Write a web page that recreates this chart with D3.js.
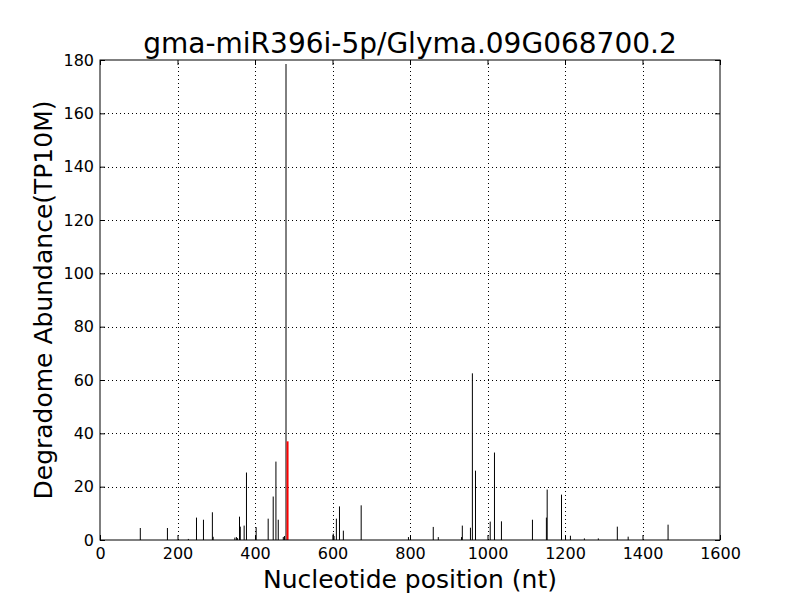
<!DOCTYPE html>
<html>
<head>
<meta charset="utf-8">
<script src="https://cdn.jsdelivr.net/npm/d3@7"></script>
<style>
  html, body { margin: 0; padding: 0; background: #fff; }
  svg { display: block; font-family: "DejaVu Sans", sans-serif; }
</style>
</head>
<body>
<svg id="chart" width="800" height="600"></svg>
<script>
const titleText = "gma-miR396i-5p/Glyma.09G068700.2";
const xLabel = "Nucleotide position (nt)";
const yLabel = "Degradome Abundance(TP10M)";
const xTicks = [0, 200, 400, 600, 800, 1000, 1200, 1400, 1600];
const yTicks = [0, 20, 40, 60, 80, 100, 120, 140, 160, 180];

const positions = [104, 174, 228, 249, 267, 290, 292, 348, 352, 355, 360, 362, 372, 378, 403, 434, 447, 454, 460, 473, 476, 480,
  602, 604, 610, 618, 628, 674, 796, 860, 873, 933, 935, 956, 961, 969, 1007, 1018, 1036, 1116, 1152, 1154, 1191, 1214, 1250, 1286, 1335, 1363, 1466];
const abundances = [4.5, 4.5, 0.4, 8.4, 7.6, 10.4, 1.2, 0.9, 1.1, 0.7, 8.75, 5, 5.4, 25.3, 4.8, 8, 16.3, 29.4, 7.6, 1.1, 1.5, 178.5,
  2.4, 1.5, 8, 12.6, 3.5, 13, 1.1, 4.9, 1.1, 1.1, 5.4, 4.6, 62.5, 26, 6.9, 32.8, 7, 7.6, 8.4, 18.9, 17, 1.6, 0.6, 0.6, 5, 1.25, 5.75];
const targetPosition = [484];
const targetAbundance = [37];

const svg = d3.select("#chart");
const m = { left: 100, right: 80, top: 60, bottom: 60 };
const W = 800, H = 600;
const x = d3.scaleLinear().domain([0, 1600]).range([m.left, W - m.right]);
const y = d3.scaleLinear().domain([0, 180]).range([H - m.bottom, m.top]);

// grid
const g = svg.append("g");
g.selectAll("line.vg").data(xTicks.slice(1, -1)).enter().append("line")
  .attr("x1", d => Math.round(x(d)) + 0.5).attr("x2", d => Math.round(x(d)) + 0.5)
  .attr("y1", y(0)).attr("y2", y(180))
  .attr("stroke", "#000").attr("stroke-width", 1).attr("stroke-dasharray", "1,3");
g.selectAll("line.hg").data(yTicks.slice(1, -1)).enter().append("line")
  .attr("y1", d => Math.round(y(d)) + 0.5).attr("y2", d => Math.round(y(d)) + 0.5)
  .attr("x1", x(0)).attr("x2", x(1600))
  .attr("stroke", "#000").attr("stroke-width", 1).attr("stroke-dasharray", "1,3");

// bars
const data = positions.map((p, i) => ({ p, v: abundances[i] }));
svg.append("g").selectAll("line").data(data).enter().append("line")
  .attr("x1", d => x(d.p)).attr("x2", d => x(d.p))
  .attr("y1", y(0)).attr("y2", d => y(d.v))
  .attr("stroke", "#000").attr("stroke-width", 1);
const tdata = targetPosition.map((p, i) => ({ p, v: targetAbundance[i] }));
svg.append("g").selectAll("line").data(tdata).enter().append("line")
  .attr("x1", d => x(d.p)).attr("x2", d => x(d.p))
  .attr("y1", y(0)).attr("y2", d => y(d.v))
  .attr("stroke", "#ff0000").attr("stroke-width", 2);

// axes with inward ticks
const tk = 5;
const fmt = d3.format("d");
const axBottom = svg.append("g").attr("transform", `translate(0,${y(0)})`)
  .call(d3.axisBottom(x).tickValues(xTicks).tickSize(-tk).tickPadding(8).tickFormat(fmt));
const axTop = svg.append("g").attr("transform", `translate(0,${y(180)})`)
  .call(d3.axisTop(x).tickValues(xTicks).tickSize(-tk).tickFormat(""));
const axLeft = svg.append("g").attr("transform", `translate(${x(0)},0)`)
  .call(d3.axisLeft(y).tickValues(yTicks).tickSize(-tk).tickPadding(6).tickFormat(fmt));
const axRight = svg.append("g").attr("transform", `translate(${x(1600)},0)`)
  .call(d3.axisRight(y).tickValues(yTicks).tickSize(-tk).tickFormat(""));
[axBottom, axTop, axLeft, axRight].forEach(a => {
  a.select(".domain").remove();
  a.selectAll("line").attr("stroke", "#000");
  a.selectAll("text").attr("font-family", "DejaVu Sans").attr("font-size", 16).attr("fill", "#000");
});

// frame
svg.append("rect").attr("x", x(0)).attr("y", y(180))
  .attr("width", x(1600) - x(0)).attr("height", y(0) - y(180))
  .attr("fill", "none").attr("stroke", "#000").attr("stroke-width", 1);

// texts
svg.append("text").attr("x", (x(0) + x(1600)) / 2).attr("y", 53)
  .attr("text-anchor", "middle").attr("font-size", 28).text(titleText);
svg.append("text").attr("x", (x(0) + x(1600)) / 2).attr("y", 588)
  .attr("text-anchor", "middle").attr("font-size", 25).text(xLabel);
svg.append("text").attr("transform", `translate(52,${(y(0) + y(180)) / 2}) rotate(-90)`)
  .attr("text-anchor", "middle").attr("font-size", 25).text(yLabel);
</script>
</body>
</html>
